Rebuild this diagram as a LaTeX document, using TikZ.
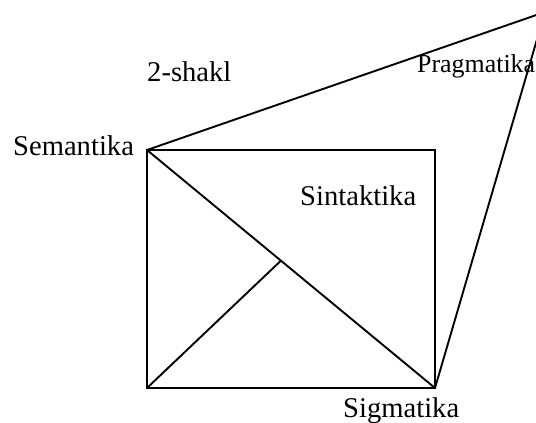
\documentclass[tikz,border=0pt]{standalone}
\usepackage{fontspec}
\setmainfont{Liberation Serif}
\usetikzlibrary{calc}
\begin{document}
\begin{tikzpicture}[x=1pt,y=-1pt,
  edge/.style={line width=1.9pt,line cap=round,line join=miter},
  lbl/.style={inner sep=0pt,anchor=base west,font=\fontsize{28.6}{32}\selectfont},
  lblsmall/.style={inner sep=0pt,anchor=base west,font=\fontsize{25.9}{30}\selectfont}]
\useasboundingbox (0,0) rectangle (536,423);
\clip (0,0) rectangle (536,423);
\coordinate (sem) at (147,150);
\coordinate (tr) at (435,150);
\coordinate (sig) at (435,388);
\coordinate (bl) at (147,388);
\coordinate (apex) at (545,12);
\coordinate (mid) at ($(sem)!0.465!(sig)$);
\draw[edge] (sem) -- (tr) -- (sig) -- (bl) -- cycle;
\draw[edge] (sem) -- (sig);
\draw[edge] (bl) -- (mid);
\draw[edge] (sem) -- (apex) -- (sig);
\node[lbl] (shakl) at (147,81.7) {2-shakl};
\node[lbl] (semantika) at (13,155) {Semantika};
\node[lbl] (sintaktika) at (300,205) {Sintaktika};
\node[lblsmall] (pragmatika) at (417,72) {Pragmatika};
\node[lbl] (sigmatika) at (343,417) {Sigmatika};
\end{tikzpicture}
\end{document}
